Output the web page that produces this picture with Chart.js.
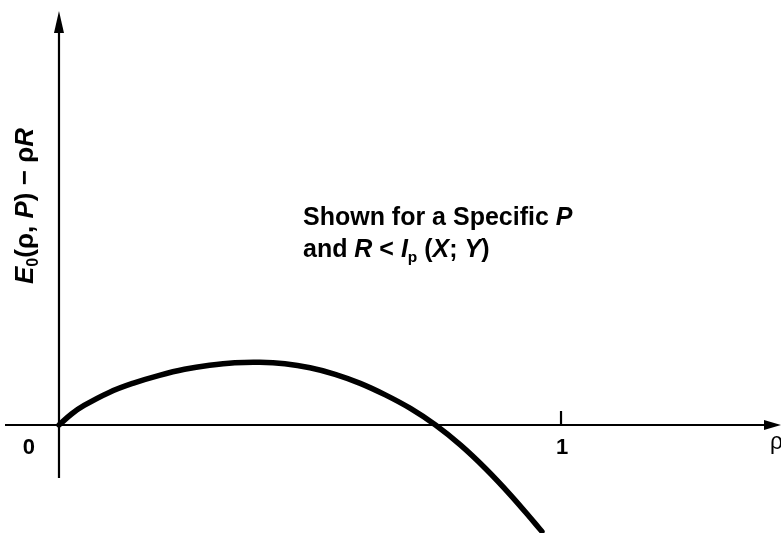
<!DOCTYPE html>
<html>
<head>
<meta charset="utf-8">
<title>E0(ρ, P) − ρR</title>
<script src="https://cdn.jsdelivr.net/npm/chart.js@4/dist/chart.umd.min.js"></script>
<style>
    html, body { margin: 0; padding: 0; background: #fff; }
    #chart { display: block; }
</style>
</head>
<body>
<canvas id="chart" width="781" height="533"></canvas>
<script>
// rho along the horizontal axis, E0(rho, P) - rho*R on the vertical one
const rho = [0, 0.025, 0.05, 0.1, 0.15, 0.2, 0.25, 0.3, 0.35, 0.4, 0.45, 0.5, 0.55, 0.6, 0.65, 0.7, 0.75, 0.8, 0.85, 0.9, 0.95, 0.962];
const margin = [0, 0.022, 0.039, 0.065, 0.084, 0.099, 0.111, 0.119, 0.124, 0.125, 0.122, 0.114, 0.101, 0.083, 0.06, 0.033, 0, -0.04, -0.087, -0.14, -0.198, -0.212];

const xTicks = [0, 1];
const xTickLabels = ['0', '1'];

const fontFamily = '"Liberation Sans", Arial, Helvetica, sans-serif';

// draw a run of text pieces, some italic or subscripted, starting at x
function drawRich(ctx, parts, x, y, size, weight) {
    let cx = x;
    parts.forEach(p => {
        const s = p.sub ? size * 0.62 : size;
        ctx.font = (p.italic ? 'italic ' : '') + weight + ' ' + s + 'px ' + fontFamily;
        ctx.fillText(p.t, cx, y + (p.sub ? size * 0.2 : 0));
        cx += ctx.measureText(p.t).width;
    });
    return cx - x;
}

function measureRich(ctx, parts, size, weight) {
    let w = 0;
    parts.forEach(p => {
        const s = p.sub ? size * 0.62 : size;
        ctx.font = (p.italic ? 'italic ' : '') + weight + ' ' + s + 'px ' + fontFamily;
        w += ctx.measureText(p.t).width;
    });
    return w;
}

const axesPlugin = {
    id: 'arrowAxes',
    beforeDatasetsDraw(chart) {
        const ctx = chart.ctx;
        const xs = chart.scales.x, ys = chart.scales.y;
        const x0 = xs.getPixelForValue(0);
        const y0 = ys.getPixelForValue(0);
        ctx.save();
        ctx.strokeStyle = '#000';
        ctx.fillStyle = '#000';
        ctx.lineWidth = 2.2;

        // horizontal axis with arrow
        ctx.beginPath();
        ctx.moveTo(5, y0);
        ctx.lineTo(770, y0);
        ctx.stroke();
        ctx.beginPath();
        ctx.moveTo(781, y0);
        ctx.lineTo(764, y0 - 5);
        ctx.lineTo(764, y0 + 5);
        ctx.closePath();
        ctx.fill();

        // vertical axis with arrow
        ctx.beginPath();
        ctx.moveTo(x0, 478);
        ctx.lineTo(x0, 25);
        ctx.stroke();
        ctx.beginPath();
        ctx.moveTo(x0, 11);
        ctx.lineTo(x0 - 5, 33);
        ctx.lineTo(x0 + 5, 33);
        ctx.closePath();
        ctx.fill();

        // tick marks and labels
        ctx.font = 'bold 22px ' + fontFamily;
        ctx.textBaseline = 'alphabetic';
        ctx.textAlign = 'center';
        xTicks.forEach((v, i) => {
            const px = xs.getPixelForValue(v);
            if (v !== 0) {
                ctx.beginPath();
                ctx.moveTo(px, y0);
                ctx.lineTo(px, y0 - 14);
                ctx.stroke();
                ctx.fillText(xTickLabels[i], px + 1, y0 + 29);
            } else {
                ctx.fillText(xTickLabels[i], px - 30, y0 + 29);
            }
        });
        ctx.textAlign = 'left';
        ctx.font = '23px ' + fontFamily;
        ctx.fillText('ρ', 770, y0 + 24);
        ctx.restore();
    },
    afterDraw(chart) {
        const ctx = chart.ctx;
        const xs = chart.scales.x, ys = chart.scales.y;
        ctx.save();
        ctx.fillStyle = '#000';
        ctx.textAlign = 'left';
        ctx.textBaseline = 'alphabetic';

        // note inside the plot
        const nx = xs.getPixelForValue(0.486);
        const ny = ys.getPixelForValue(0.398);
        drawRich(ctx, [
            { t: 'Shown for a Specific ' },
            { t: 'P', italic: true }
        ], nx, ny, 25, 'bold');
        drawRich(ctx, [
            { t: 'and ' },
            { t: 'R', italic: true },
            { t: ' < ' },
            { t: 'I', italic: true },
            { t: 'p', sub: true },
            { t: ' (' },
            { t: 'X', italic: true },
            { t: '; ' },
            { t: 'Y', italic: true },
            { t: ')' }
        ], nx, ny + 32, 25, 'bold');

        // vertical axis title
        const yTitle = [
            { t: 'E', italic: true },
            { t: '0', sub: true },
            { t: '(ρ, ' },
            { t: 'P', italic: true },
            { t: ') − ρ' },
            { t: 'R', italic: true }
        ];
        ctx.translate(33, 206);
        ctx.rotate(-Math.PI / 2);
        const w = measureRich(ctx, yTitle, 26, 'bold');
        drawRich(ctx, yTitle, -w / 2, 0, 26, 'bold');
        ctx.restore();
    }
};

new Chart(document.getElementById('chart'), {
    type: 'line',
    data: {
        datasets: [{
            data: rho.map((r, i) => ({ x: r, y: margin[i] })),
            borderColor: '#000',
            borderWidth: 5.5,
            pointRadius: 0,
            tension: 0.4,
            fill: false,
            borderCapStyle: 'round'
        }]
    },
    options: {
        responsive: false,
        animation: false,
        devicePixelRatio: 1,
        layout: { padding: 0 },
        plugins: {
            legend: { display: false },
            tooltip: { enabled: false }
        },
        scales: {
            x: {
                type: 'linear',
                display: false,
                min: -0.1175,
                max: 1.4382
            },
            y: {
                type: 'linear',
                display: false,
                min: -0.2151,
                max: 0.8466
            }
        }
    },
    plugins: [axesPlugin]
});
</script>
</body>
</html>
